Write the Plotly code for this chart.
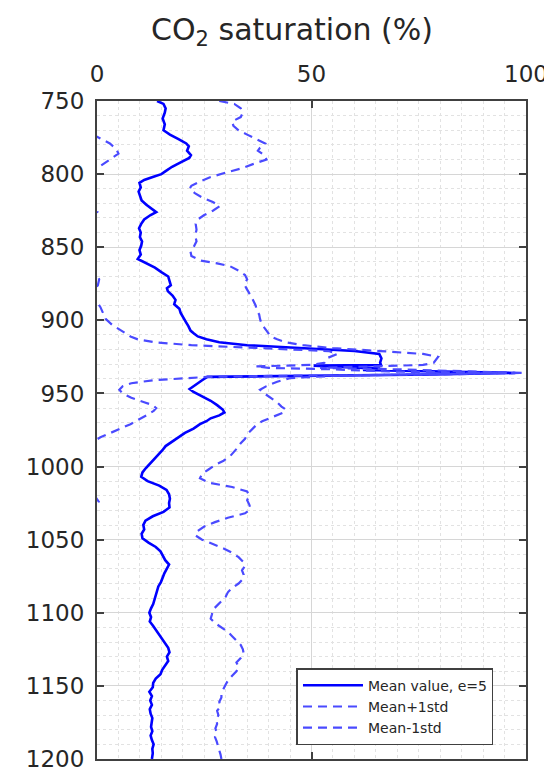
import plotly.graph_objects as go

# ---------------- data ----------------
mean_depth = [750, 752, 755, 758, 762, 766, 770, 773, 776, 779, 781, 784, 787, 789, 792, 795, 798,
              800, 802, 804, 806, 809, 812, 815, 818, 821, 824, 826, 828, 831, 834, 837, 840, 843,
              846, 849, 852, 855, 858, 861, 864, 867, 870, 873, 876, 878, 880, 883, 886, 889, 892,
              895, 898, 901, 904, 907, 909, 911, 913, 915, 917, 919, 921, 923, 926, 929, 930.5,
              931, 932, 933, 934, 935, 936, 937, 938, 938.7, 941, 943, 945, 947, 949, 952, 955, 958,
              961, 963, 965, 967, 969, 971, 974, 977, 980, 983, 986, 989, 992, 995, 998, 1001,
              1004, 1007, 1010, 1013, 1016, 1019, 1022, 1025, 1028, 1031, 1034, 1037, 1040, 1043,
              1046, 1049, 1052, 1055, 1058, 1061, 1064, 1067, 1070, 1073, 1076, 1079, 1082, 1085,
              1088, 1091, 1094, 1097, 1100, 1103, 1106, 1109, 1112, 1115, 1118, 1121, 1124, 1127,
              1130, 1133, 1136, 1139, 1142, 1145, 1148, 1151, 1154, 1157, 1160, 1163, 1166, 1169,
              1172, 1175, 1178, 1181, 1184, 1187, 1190, 1193, 1196, 1200]
mean_value = [14.0, 15.5, 16.0, 15.8, 15.3, 15.8, 15.5, 17.0, 19.0, 20.8, 21.4, 21.0, 21.9, 21.5,
              19.5, 17.5, 16.0, 15.0, 13.0, 11.0, 9.9, 10.2, 9.7, 10.0, 10.4, 11.5, 12.8, 13.8,
              12.5, 11.0, 10.3, 9.8, 10.2, 10.0, 10.5, 10.3, 9.9, 10.2, 9.5, 11.5, 13.5, 15.0,
              16.6, 16.9, 17.2, 16.3, 16.5, 17.6, 18.3, 18.0, 19.2, 19.5, 20.2, 20.7, 21.3, 21.8,
              22.6, 23.5, 25.5, 28.5, 35.0, 47.0, 60.0, 65.8, 66.3, 66.0, 66.2,
              50.5, 58.0, 66.0, 62.0, 80.0, 97.5, 78.0, 45.0, 25.7, 24.5, 23.5, 22.3, 21.6, 22.5,
              24.5, 26.5, 28.0, 29.3, 29.7, 28.5, 26.5, 25.5, 24.0, 22.5, 20.5, 19.0, 17.5, 16.0,
              15.2, 14.2, 13.4, 12.2, 11.4, 10.6, 10.3, 11.8, 14.5, 16.2, 16.8, 17.0, 16.8, 16.9,
              15.5, 13.0, 11.3, 10.8, 11.0, 10.4, 10.6, 12.0, 13.7, 14.8, 15.4, 15.9, 16.8, 16.2,
              15.7, 15.3, 14.9, 14.3, 14.0, 13.7, 13.3, 13.1, 12.6, 12.2, 12.6, 12.3, 13.1, 13.8,
              14.7, 15.4, 16.0, 16.6, 16.9, 16.3, 16.6, 15.8, 15.2, 14.8, 13.7, 13.1, 13.0, 12.2,
              12.8, 12.4, 12.8, 12.3, 12.5, 12.9, 12.8, 12.6, 12.9, 12.5, 12.8, 13.2, 12.9, 13.0,
              12.8, 13.1]

upper_depth = [750, 752, 755, 758, 761, 764, 767, 770, 773, 776, 779, 782, 784, 787, 790, 793, 796,
               799, 802, 805, 808, 810, 813, 816, 819, 822, 825, 828, 831, 834, 838, 842, 846, 850,
               853, 856, 859, 861, 863, 866, 869, 872, 875, 878, 881, 884, 887, 890, 893, 896, 899,
               902, 905, 908, 911, 913, 915, 917, 919, 921, 923, 925, 927, 929, 930.5, 931.5, 932.5,
               933.5, 935, 936, 937, 938, 939.5, 942, 945, 947.5, 950, 953, 956, 959, 961, 963, 966,
               969, 972, 975, 978, 981, 984, 987, 990, 993, 996, 999, 1002, 1005, 1008, 1011, 1014,
               1017, 1020, 1023, 1026, 1029, 1032, 1035, 1038, 1041, 1044, 1047, 1050, 1053, 1056,
               1059, 1062, 1065, 1068, 1071, 1074, 1077, 1080, 1083, 1086, 1089, 1092, 1095, 1098,
               1101, 1104, 1107, 1110, 1113, 1116, 1119, 1122, 1125, 1128, 1131, 1134, 1137, 1140,
               1143, 1146, 1149, 1152, 1155, 1158, 1161, 1164, 1167, 1170, 1173, 1176, 1179, 1182,
               1185, 1188, 1191, 1194, 1197, 1200]
upper_value = [28.5, 32.0, 33.5, 34.0, 33.5, 31.5, 31.8, 33.0, 35.0, 37.0, 39.2, 38.0, 37.5, 39.0,
               39.5, 36.5, 33.8, 30.0, 26.5, 24.0, 22.0, 21.6, 22.8, 24.5, 27.0, 28.6, 27.0, 25.0,
               23.5, 23.0, 23.2, 22.9, 23.2, 22.5, 21.8, 22.0, 24.0, 28.0, 31.0, 33.0, 34.5, 35.0,
               34.3, 34.8, 35.5, 36.0, 36.5, 37.0, 37.2, 37.8, 38.0, 38.3, 39.0, 39.8, 40.5, 42.0,
               44.0, 48.0, 55.0, 66.0, 76.0, 79.5, 79.0, 78.5, 76.0, 60.0, 52.0, 70.0, 85.0, 99.5,
               72.0, 55.0, 45.0, 42.0, 39.5, 38.0, 39.0, 40.5, 42.0, 43.0, 44.0, 43.5, 41.0, 38.5,
               37.0, 36.0, 35.0, 34.5, 33.5, 32.8, 32.0, 31.0, 29.5, 27.5, 26.0, 24.5, 24.0, 26.0,
               31.5, 35.0, 35.5, 35.0, 35.5, 35.8, 34.5, 30.5, 27.5, 25.0, 23.5, 22.9, 24.5, 27.0,
               29.5, 31.5, 33.0, 34.0, 34.5, 33.8, 34.2, 34.0, 33.0, 31.5, 30.5, 30.0, 29.0, 28.0,
               27.0, 26.8, 26.5, 27.5, 29.0, 30.5, 31.5, 32.5, 33.5, 34.0, 34.2, 33.5, 32.5, 33.0,
               32.5, 31.5, 30.6, 30.0, 29.4, 29.0, 29.0, 28.5, 28.8, 28.0, 28.3, 27.8, 28.0, 27.6,
               27.9, 27.5, 27.9, 28.2, 28.6, 28.8, 29.0, 29.1]

lower_depth = [750, 755, 760, 765, 770, 773, 776, 779, 783, 786, 789, 792, 795, 798, 802, 806, 812,
               816, 822, 826, 830, 836, 842, 848, 854, 858, 862, 866, 869, 872, 876, 879, 883, 887,
               891, 895, 899, 903, 906, 909, 911, 913, 915, 917, 919, 921, 923, 926, 929, 930.5,
               931.5, 932.5, 933.5, 935, 936, 937, 938, 938.7, 941, 943, 945, 947.5, 950, 953, 956,
               958, 960, 962, 965, 968, 971, 974, 977, 980, 984, 988, 993, 998, 1003, 1008, 1013,
               1018, 1022, 1024, 1027, 1031, 1036, 1041, 1046, 1052, 1058, 1064, 1068, 1074, 1080,
               1086, 1092, 1098, 1104, 1110, 1116, 1122, 1128, 1134, 1140, 1146, 1152, 1158, 1164,
               1170, 1176, 1182, 1188, 1194, 1200]
lower_value = [-0.5, -1.5, -2.5, -0.3, -2.0, -1.0, 1.0, 3.0, 4.5, 5.0, 3.5, 2.0, 0.5, -1.0, -2.0,
               -4.0, -2.5, -4.0, -4.0, 0.0, -1.5, -3.0, -2.5, -2.5, -2.0, -3.5, -3.0, -1.5, 0.0,
               0.5, 0.2, -0.5, -1.0, 0.0, 0.8, 1.4, 2.0, 3.5, 5.0, 6.5, 7.8, 9.5, 13.5, 22.0, 40.0,
               54.0, 56.0, 53.5, 53.0, 50.0, 37.0, 40.0, 55.0, 68.0, 95.5, 80.0, 40.0, 25.7, 13.0,
               8.0, 6.0, 5.2, 6.0, 8.0, 11.0, 13.0, 13.8, 13.2, 11.5, 9.8, 7.8, 5.5, 3.0, 0.8, -1.5,
               -2.5, -2.5, -3.0, -3.5, -3.5, -2.5, -1.0, 0.0, 0.4, -0.5, -3.0, -4.0, -3.5, -2.0,
               -1.5, -1.0, -1.5, -1.0, -2.5, -2.0, -1.5, -1.5, -1.0, -1.5, -3.0, -1.5, -1.0, -0.5,
               -1.0, -1.5, -2.5, -2.0, -1.5, -2.0, -2.0, -1.0, -1.0, -1.0, -1.5, -2.0]

series_names = ["Mean value, e=5", "Mean+1std", "Mean-1std"]
x_tick_values = [0, 50, 100]
y_tick_values = [750, 800, 850, 900, 950, 1000, 1050, 1100, 1150, 1200]

# ---------------- figure ----------------
SOLID = "#0000ff"
DASHED = "#4a4aff"
FONT = "DejaVu Sans"
TXT = "#262626"

fig = go.Figure()
fig.add_trace(go.Scatter(x=mean_value, y=mean_depth, mode="lines", name=series_names[0],
                         line=dict(color=SOLID, width=2.6)))
fig.add_trace(go.Scatter(x=upper_value, y=upper_depth, mode="lines", name=series_names[1],
                         line=dict(color=DASHED, width=2.2, dash="9px,6px")))
fig.add_trace(go.Scatter(x=lower_value, y=lower_depth, mode="lines", name=series_names[2],
                         line=dict(color=DASHED, width=2.2, dash="9px,6px")))

fig.update_layout(
    width=552, height=776,
    margin=dict(l=89, r=31, t=93, b=14),
    paper_bgcolor="white", plot_bgcolor="white",
    title=dict(text="CO<sub>2</sub> saturation (%)", x=284 / 552, xanchor="center",
               xref="container", yref="container", y=1 - 21 / 776, yanchor="middle",
               font=dict(family=FONT, size=30, color=TXT)),
    legend=dict(x=0.465, y=0.021, xanchor="left", yanchor="bottom",
                bgcolor="white", bordercolor="#404040", borderwidth=1.5,
                font=dict(family=FONT, size=14, color=TXT), tracegroupgap=0,
                itemwidth=60),
    showlegend=True,
)

fig.update_xaxes(
    side="top", range=[0, 100], tickvals=x_tick_values, ticktext=[str(v) for v in x_tick_values],
    ticks="inside", ticklen=7, tickwidth=1.5, tickcolor="#404040",
    showline=True, linecolor="#404040", linewidth=2, mirror="ticks",
    showgrid=True, gridcolor="#d6d6d6", gridwidth=1,
    minor=dict(dtick=5, showgrid=True, gridcolor="#e2e2e2", griddash="dot", gridwidth=1),
    tickfont=dict(family=FONT, size=23, color=TXT), ticklabelstandoff=8,
    zeroline=False,
)
fig.update_yaxes(
    range=[1200, 750], tickvals=y_tick_values,
    ticks="inside", ticklen=7, tickwidth=1.5, tickcolor="#404040",
    showline=True, linecolor="#404040", linewidth=2, mirror="ticks",
    showgrid=True, gridcolor="#d6d6d6", gridwidth=1,
    minor=dict(dtick=10, showgrid=True, gridcolor="#e2e2e2", griddash="dot", gridwidth=1),
    tickfont=dict(family=FONT, size=23, color=TXT), ticklabelstandoff=6,
    zeroline=False,
)

fig.write_html("out.html")
